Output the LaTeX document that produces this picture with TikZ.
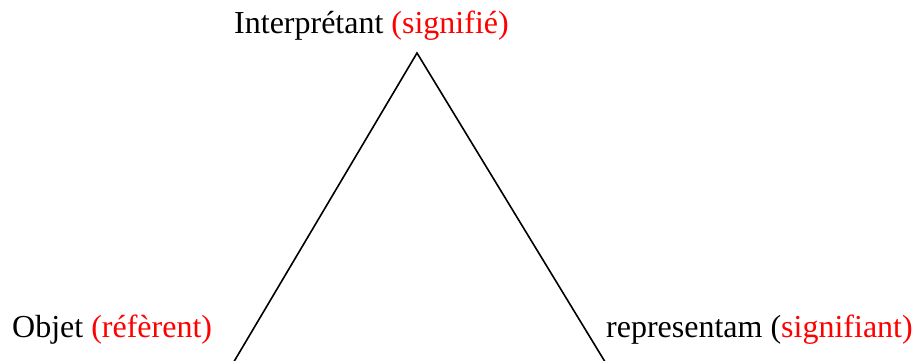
\documentclass[tikz,border=0pt]{standalone}
\usepackage{fontspec}
\setmainfont{Liberation Serif}
\begin{document}
\begin{tikzpicture}[x=1pt,y=1pt,
  lbl/.style={inner sep=0pt, anchor=base west, font=\fontsize{32}{38}\selectfont},
  leg/.style={line width=1.6pt, black}]
\useasboundingbox (0,0) rectangle (916,360);
\clip (0,0) rectangle (916,360);
\coordinate (apex) at (417,307);
\coordinate (bl) at (229,-10);
\coordinate (br) at (610,-10);
\node[lbl] (interp) at (234,327) {Interprétant \textcolor{red}{(signifié)}};
\node[lbl] (objet) at (12,23) {Objet \textcolor{red}{(réfèrent)}};
\node[lbl] (repr) at (606,23) {representam (\textcolor{red}{signifiant)}};
\draw[leg] (bl) -- (apex) -- (br);
\end{tikzpicture}
\end{document}
